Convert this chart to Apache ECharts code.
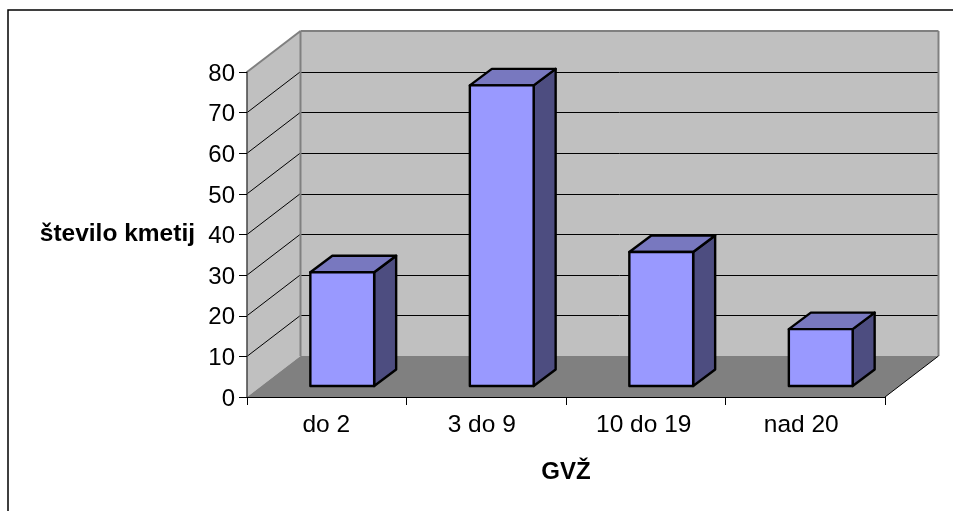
<!DOCTYPE html>
<html>
<head>
<meta charset="utf-8">
<style>html,body{margin:0;padding:0;background:#fff}#c{width:953px;height:511px}</style>
<script src="https://cdn.jsdelivr.net/npm/echarts@6/dist/echarts.min.js"></script>
</head>
<body>
<div id="c"></div>
<script>
const categories = ['do 2', '3 do 9', '10 do 19', 'nad 20'];
const values = [28, 74, 33, 14];
const yTicks = [0, 10, 20, 30, 40, 50, 60, 70, 80];
const xTitle = 'GVŽ';
const yTitle = 'število kmetij';

const FONT = '"Liberation Sans", Arial, sans-serif';
const DEPTH_X = 53.5, DEPTH_Y = 41;      // wall depth in px
const BAR_OFF_X = 15.5, BAR_OFF_Y = 11;  // bar placement inside the depth
const BAR_DX = 22, BAR_DY = 16.5;        // bar depth
const BAR_RATIO = 0.4;

function poly(points, fill, stroke, lw) {
  return { type: 'polygon', shape: { points }, style: { fill, stroke: stroke || null, lineWidth: lw || 0, lineJoin: 'round' } };
}
function seg(x1, y1, x2, y2, stroke, lw) {
  return { type: 'line', shape: { x1, y1, x2, y2 }, style: { stroke, lineWidth: lw || 1, fill: null } };
}

function renderRoom(params, api) {
  const cs = params.coordSys;
  const L = cs.x, R = cs.x + cs.width, T = cs.y, B = cs.y + cs.height;
  const dx = DEPTH_X, dy = DEPTH_Y;
  const kids = [];
  kids.push(poly([[L + dx, T - dy], [R + dx, T - dy], [R + dx, B - dy], [L + dx, B - dy]], '#c0c0c0'));
  kids.push(poly([[L, T], [L + dx, T - dy], [L + dx, B - dy], [L, B]], '#c0c0c0'));
  yTicks.forEach(v => {
    if (v === 0 || v === yTicks[yTicks.length - 1]) return;
    const y = api.coord([0, v])[1];
    kids.push(seg(L, y, L + dx, y - dy, '#000', 1));
    kids.push(seg(L + dx, Math.round(y - dy) + 0.5, R + dx, Math.round(y - dy) + 0.5, '#000', 1));
  });
  kids.push(poly([[L, B], [L + dx, B - dy], [R + dx, B - dy], [R, B]], '#808080'));
  const g = '#808080';
  kids.push(seg(L, T, L + dx, T - dy, g, 2));
  kids.push(seg(L + dx, T - dy, R + dx, T - dy, g, 2));
  kids.push(seg(L + dx, T - dy, L + dx, B - dy, g, 2));
  kids.push(seg(R + dx, T - dy, R + dx, B - dy, g, 2));
  kids.push(seg(R, B, R + dx, B - dy, '#000', 1));
  return { type: 'group', children: kids };
}

function renderBar(params, api) {
  const p0 = api.coord([api.value(0), 0]);
  const p1 = api.coord([api.value(0), api.value(1)]);
  const w = api.size([1, 0])[0] * BAR_RATIO;
  const l = p0[0] + BAR_OFF_X - w / 2, r = l + w;
  const b = p0[1] - BAR_OFF_Y, t = p1[1] - BAR_OFF_Y;
  const dx = BAR_DX, dy = BAR_DY, s = '#000', lw = 2.4;
  return { type: 'group', children: [
    poly([[r, t], [r + dx, t - dy], [r + dx, b - dy], [r, b]], '#4d4d80', s, lw),
    poly([[l, t], [l + dx, t - dy], [r + dx, t - dy], [r, t]], '#7878bf', s, lw),
    poly([[l, t], [r, t], [r, b], [l, b]], '#9999ff', s, lw)
  ] };
}

const labelRich = {
  c0: { padding: [0, 1, 0, 0] },
  c1: { padding: [0, 9, 0, 0] },
  c2: { padding: [0, 4, 0, 0] },
  c3: { padding: [0, 8, 0, 0] }
};

const chart = echarts.init(document.getElementById('c'), null, { renderer: 'canvas' });
chart.setOption({
  animation: false,
  backgroundColor: '#fff',
  graphic: [{
    type: 'polyline', silent: true,
    shape: { points: [[8, 511], [8, 10], [953, 10]] },
    style: { stroke: '#000', lineWidth: 1.5, fill: null }
  }],
  grid: { left: 247, right: 68, top: 72, bottom: 114, containLabel: false },
  xAxis: {
    type: 'category', data: categories, z: 3,
    axisLine: { show: true, lineStyle: { color: '#000', width: 1 } },
    axisTick: { show: true, alignWithLabel: false, length: 8, lineStyle: { color: '#000' } },
    axisLabel: {
      color: '#000', fontSize: 24.5, fontFamily: FONT, margin: 16, interval: 0,
      formatter: (v, i) => `{c${i}|${v}}`,
      rich: labelRich
    },
    splitLine: { show: false },
    name: xTitle, nameLocation: 'middle', nameGap: 63,
    nameTextStyle: { color: '#000', fontSize: 24, fontWeight: 'bold', fontFamily: FONT }
  },
  yAxis: {
    type: 'value', min: 0, max: 80, interval: 10, z: 3,
    axisLine: { show: true, lineStyle: { color: '#444', width: 1.5 } },
    axisTick: { show: true, length: 8, lineStyle: { color: '#000' } },
    axisLabel: {
      color: '#000', fontSize: 24, fontFamily: FONT, margin: 12,
      formatter: v => `{n|${v}}`,
      rich: { n: { padding: [4, 0, 0, 0] } }
    },
    splitLine: { show: false },
    name: yTitle, nameLocation: 'middle', nameGap: 52, nameRotate: 0,
    nameTextStyle: { color: '#000', fontSize: 24.5, fontWeight: 'bold', fontFamily: FONT, align: 'right', verticalAlign: 'middle' }
  },
  series: [
    { type: 'custom', z: 1, silent: true, renderItem: renderRoom, data: [[0, 0]], encode: { x: 0, y: 1 }, clip: false },
    { type: 'custom', z: 5, silent: true, renderItem: renderBar, data: values.map((v, i) => [i, v]), encode: { x: 0, y: 1 }, clip: false }
  ]
});
</script>
</body>
</html>
